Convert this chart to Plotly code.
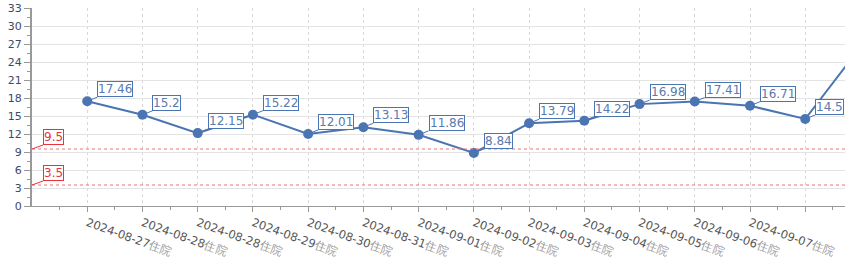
import plotly.graph_objects as go

dates = ["2024-08-27", "2024-08-28", "2024-08-28", "2024-08-29", "2024-08-30",
         "2024-08-31", "2024-09-01", "2024-09-02", "2024-09-03", "2024-09-04",
         "2024-09-05", "2024-09-06", "2024-09-07", "2024-09-08", "2024-09-09"]
suffix = "住院"
values = [17.46, 15.2, 12.15, 15.22, 12.01, 13.13, 11.86, 8.84, 13.79, 14.22,
          16.98, 17.41, 16.71, 14.5, 26.5]
ref_lines = [9.5, 3.5]
y_ticks = list(range(0, 34, 3))

blue = "#4a75b2"
red = "#e8343c"
xs = list(range(len(values)))

fig = go.Figure()
fig.add_trace(go.Scatter(
    x=xs, y=values, mode="lines+markers",
    line=dict(color=blue, width=2),
    marker=dict(color=blue, size=10),
    hoverinfo="skip", showlegend=False,
))

annotations = []
for x, v in zip(xs, values):
    annotations.append(dict(
        x=x, y=v, xref="x", yref="y", text=f"{v:g}",
        showarrow=True, arrowhead=0, arrowwidth=1, arrowcolor=blue,
        ax=10, ay=-4, xanchor="left", yanchor="bottom",
        bordercolor=blue, borderwidth=1, borderpad=0, bgcolor="white",
        font=dict(family="DejaVu Sans", size=12, color="#5a7ab0"),
    ))
for r in ref_lines:
    annotations.append(dict(
        x=0, y=r, xref="paper", yref="y", text=f"{r:g}",
        showarrow=True, arrowhead=0, arrowwidth=1, arrowcolor=red,
        ax=11, ay=-4, xanchor="left", yanchor="bottom",
        bordercolor=red, borderwidth=1, borderpad=0, bgcolor="white",
        font=dict(family="DejaVu Sans", size=12, color=red),
    ))

shapes = [dict(type="line", xref="paper", yref="y", x0=0, x1=1, y0=r, y1=r,
               line=dict(color="#f07070", width=1, dash="dot")) for r in ref_lines]

ticktext = [f"{d}<span style='color:#999'>{suffix}</span>" for d in dates]

fig.update_layout(
    width=845, height=259,
    margin=dict(l=32, r=0, t=8, b=53),
    paper_bgcolor="white", plot_bgcolor="white",
    annotations=annotations, shapes=shapes,
    xaxis=dict(
        range=[-1.0, 13.72], tickmode="array", tickvals=xs, ticktext=ticktext,
        tickangle=20, ticks="outside", ticklen=5, tickcolor="#999",
        showline=True, linecolor="#999", linewidth=1,
        showgrid=True, gridcolor="#d8d8d8", griddash="dot", gridwidth=1,
        zeroline=False,
        tickfont=dict(family="DejaVu Sans", size=11.5, color="#555"),
        minor=dict(tickvals=[x - 0.5 for x in xs], ticks="outside", ticklen=3,
                   tickcolor="#999", showgrid=False),
    ),
    yaxis=dict(
        range=[0, 33], tickmode="array", tickvals=y_ticks,
        ticks="outside", ticklen=6, tickcolor="#999",
        showline=True, linecolor="#999", linewidth=2,
        showgrid=True, gridcolor="#e3e3e3", gridwidth=1, zeroline=False,
        tickfont=dict(family="DejaVu Sans", size=11, color="#3d4a66"),
        minor=dict(dtick=1.5, tick0=0, ticks="outside", ticklen=3,
                   tickcolor="#999", showgrid=False),
    ),
)

fig.write_html("out.html")
